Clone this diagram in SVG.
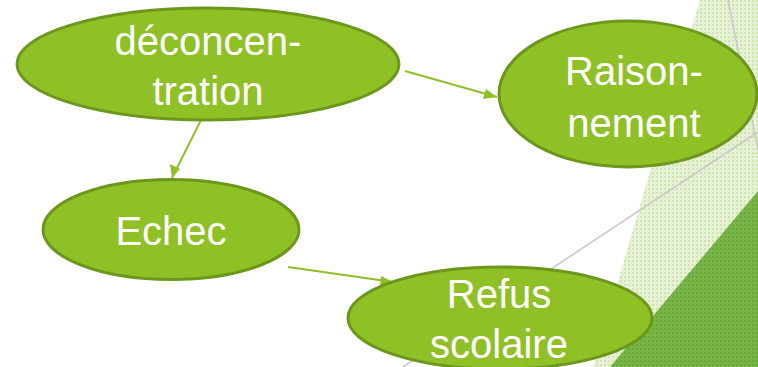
<svg xmlns="http://www.w3.org/2000/svg" width="758" height="367" viewBox="0 0 758 367">
<style>
.node{fill:#8fc026;stroke:#6c961c;stroke-width:3}
.lbl{font-family:"Liberation Sans",Arial,sans-serif;font-size:40px;fill:#ffffff;text-anchor:middle}
.edge{stroke:#8fc026;stroke-width:2;fill:none;marker-end:url(#ah)}
.bgline{stroke:#c8c8c8;stroke-width:1.5;fill:none}
</style>
<defs>
<pattern id="pl" width="4" height="4" patternUnits="userSpaceOnUse">
<rect width="4" height="4" fill="#e6f1d6"/>
<rect width="2" height="2" fill="#cfe4b0"/>
</pattern>
<pattern id="pd" width="4" height="4" patternUnits="userSpaceOnUse">
<rect width="4" height="4" fill="#78b446"/>
<rect width="2" height="2" fill="#67a93a"/>
</pattern>
<marker id="ah" viewBox="0 0 10 10" refX="9" refY="5" markerWidth="6" markerHeight="6" orient="auto" markerUnits="userSpaceOnUse">
<path d="M0,0 L10,5 L0,10 z" fill="#8fc026"/>
</marker>
</defs>
<rect width="758" height="367" fill="#ffffff"/>
<g id="background">
<polygon points="700,0 758,0 758,367 593,367" fill="url(#pl)"/>
<polygon points="758,191 758,367 610,367" fill="url(#pd)"/>
<line class="bgline" x1="728" y1="0" x2="760" y2="160"/>
<line class="bgline" x1="403" y1="367" x2="758" y2="132"/>
</g>
<g id="connectors">
<line class="edge" x1="405" y1="71" x2="497" y2="97" style="marker-end:none"/>
<path d="M497,97 L483,99 L486,89 z" fill="#8fc026"/>
<line class="edge" x1="202" y1="118" x2="172" y2="178" style="marker-end:none"/>
<path d="M172,178 L170,164 L180,169 z" fill="#8fc026"/>
<line class="edge" x1="288" y1="267" x2="393" y2="282" style="marker-end:none"/>
<path d="M393,282 L380,287 L381,276 z" fill="#8fc026"/>
</g>
<g id="node-deconcentration">
<ellipse class="node" cx="208" cy="64" rx="191" ry="56"/>
<text class="lbl" x="208" y="55">déconcen-</text>
<text class="lbl" x="208" y="105">tration</text>
</g>
<g id="node-raisonnement">
<ellipse class="node" cx="628" cy="94" rx="129" ry="73"/>
<text class="lbl" x="634" y="85">Raison-</text>
<text class="lbl" x="634" y="137">nement</text>
</g>
<g id="node-echec">
<ellipse class="node" cx="171" cy="229.5" rx="128" ry="50"/>
<text class="lbl" x="171" y="245">Echec</text>
</g>
<g id="node-refus">
<ellipse class="node" cx="500" cy="318" rx="152" ry="51"/>
<text class="lbl" x="499" y="308">Refus</text>
<text class="lbl" x="499" y="358">scolaire</text>
</g>
</svg>
